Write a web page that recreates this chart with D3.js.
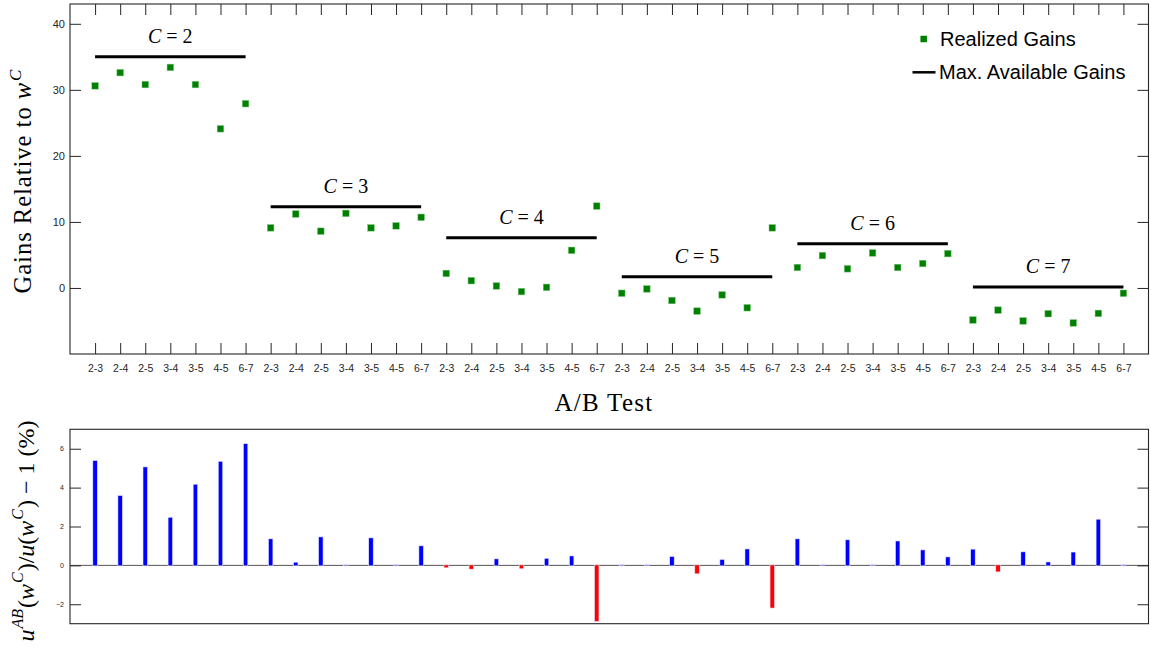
<!DOCTYPE html>
<html>
<head>
<meta charset="utf-8">
<script src="https://cdn.jsdelivr.net/npm/d3@7"></script>
<style>
  html, body { margin: 0; padding: 0; background: #fff; }
  svg { display: block; }
</style>
</head>
<body>
<svg id="chart" width="1151" height="658"></svg>
<script>
// ---------------- DATA ----------------
const tests = ["2-3", "2-4", "2-5", "3-4", "3-5", "4-5", "6-7"];
const groupC = [2, 3, 4, 5, 6, 7];
const maxGains = [35.0, 12.3, 7.6, 1.7, 6.7, 0.15];
const realizedC2 = [30.6, 32.6, 30.8, 33.4, 30.8, 24.1, 27.9];
const realizedC3 = [9.1, 11.2, 8.6, 11.3, 9.1, 9.4, 10.7];
const realizedC4 = [2.2, 1.1, 0.3, -0.55, 0.1, 5.7, 12.4];
const realizedC5 = [-0.8, -0.15, -1.9, -3.5, -1.05, -3.0, 9.1];
const realizedC6 = [3.1, 4.9, 2.9, 5.3, 3.1, 3.7, 5.2];
const realizedC7 = [-4.85, -3.35, -5.0, -3.9, -5.3, -3.85, -0.8];
const utilityChange = [
  5.37, 3.57, 5.04, 2.45, 4.15, 5.33, 6.24,
  1.34, 0.14, 1.44, 0.0, 1.39, 0.0, 0.98,
  -0.1, -0.17, 0.31, -0.15, 0.34, 0.46, -2.86,
  0.0, 0.0, 0.43, -0.41, 0.28, 0.82, -2.17,
  1.34, 0.0, 1.29, 0.0, 1.23, 0.77, 0.41,
  0.81, -0.31, 0.67, 0.15, 0.66, 2.35, 0.0
];
const topYTicks = [0, 10, 20, 30, 40];
const bottomYTicks = [-2, 0, 2, 4, 6];
const legendLabels = ["Realized Gains", "Max. Available Gains"];
// --------------------------------------

const realizedAll = [realizedC2, realizedC3, realizedC4, realizedC5, realizedC6, realizedC7];
const nT = tests.length;
const points = [];
realizedAll.forEach((arr, g) => arr.forEach((v, t) => points.push({ idx: g * nT + t + 1, g, t, v })));

const svg = d3.select("#chart");
const axisColor = "#262626";
const sansFont = "'Liberation Sans', Arial, Helvetica, sans-serif";
const serifFont = "'Liberation Serif', 'Times New Roman', serif";

const L = 70, R = 1148.5;
const x = d3.scaleLinear().domain([0, groupC.length * nT + 1]).range([L, R]);

// ---------- TOP PLOT ----------
const T1 = 4, B1 = 354;
const y1 = d3.scaleLinear().domain([-10, 43]).range([B1, T1]);
const topG = svg.append("g");

const idxAll = d3.range(1, groupC.length * nT + 1);
const tickLen = 11;

// Bottom axis with inward ticks and labels
const xAxisB = d3.axisBottom(x).tickValues(idxAll).tickSize(0).tickPadding(0)
  .tickFormat(d => tests[(d - 1) % nT]);
const gxb = topG.append("g").attr("transform", `translate(0,${B1})`).call(xAxisB);
gxb.select(".domain").remove();
gxb.selectAll("text").attr("y", 17.5).attr("dy", 0)
  .style("font-family", sansFont).style("font-size", "10.5px").attr("fill", axisColor);
gxb.selectAll(".tick").append("line").attr("y1", 0).attr("y2", -tickLen)
  .attr("stroke", axisColor).attr("stroke-width", 1);

// Top axis inward ticks
const xAxisT = d3.axisTop(x).tickValues(idxAll).tickSize(-tickLen).tickFormat("");
const gxt = topG.append("g").attr("transform", `translate(0,${T1})`).call(xAxisT);
gxt.select(".domain").remove();
gxt.selectAll("line").attr("stroke", axisColor);

// Left axis
const yAxisL = d3.axisLeft(y1).tickValues(topYTicks).tickSize(-tickLen).tickPadding(5);
const gyl = topG.append("g").attr("transform", `translate(${L},0)`).call(yAxisL);
gyl.select(".domain").remove();
gyl.selectAll("line").attr("stroke", axisColor);
gyl.selectAll("text").style("font-family", sansFont).style("font-size", "11px").attr("fill", axisColor);

// Right axis
const yAxisR = d3.axisRight(y1).tickValues(topYTicks).tickSize(-tickLen).tickFormat("");
const gyr = topG.append("g").attr("transform", `translate(${R},0)`).call(yAxisR);
gyr.select(".domain").remove();
gyr.selectAll("line").attr("stroke", axisColor);

// frame
topG.append("rect").attr("x", L).attr("y", T1).attr("width", R - L).attr("height", B1 - T1)
  .attr("fill", "none").attr("stroke", axisColor).attr("stroke-width", 1.1);

// max lines
topG.selectAll(".maxline").data(groupC).join("line")
  .attr("x1", (c, g) => x(g * nT + 1)).attr("x2", (c, g) => x(g * nT + nT))
  .attr("y1", (c, g) => y1(maxGains[g])).attr("y2", (c, g) => y1(maxGains[g]))
  .attr("stroke", "#000").attr("stroke-width", 3);

// group labels
const glab = topG.selectAll(".glab").data(groupC).join("text")
  .attr("x", (c, g) => x(g * nT + (nT + 1) / 2))
  .attr("y", (c, g) => y1(maxGains[g]) - 14)
  .attr("text-anchor", "middle")
  .style("font-family", serifFont).style("font-size", "20px").attr("fill", "#000");
glab.append("tspan").style("font-style", "italic").text("C");
glab.append("tspan").text(c => "\u2005=\u2005" + c);

// realized markers
const ms = 6.5;
topG.selectAll(".pt").data(points).join("rect")
  .attr("x", d => x(d.idx) - ms / 2).attr("y", d => y1(d.v) - ms / 2)
  .attr("width", ms).attr("height", ms)
  .attr("fill", "#008000").attr("stroke", "#6fbf6f").attr("stroke-width", 0.5);

// legend
const leg = topG.append("g");
leg.append("rect").attr("x", 923.7 - 3.25).attr("y", 39 - 3.25).attr("width", 6.5).attr("height", 6.5)
  .attr("fill", "#008000");
leg.append("text").attr("x", 940).attr("y", 46).text(legendLabels[0])
  .style("font-family", sansFont).style("font-size", "20px").attr("fill", "#000");
leg.append("line").attr("x1", 912.5).attr("x2", 935.5).attr("y1", 72.3).attr("y2", 72.3)
  .attr("stroke", "#000").attr("stroke-width", 2.5);
leg.append("text").attr("x", 939).attr("y", 79.3).text(legendLabels[1])
  .style("font-family", sansFont).style("font-size", "20px").attr("fill", "#000");

// axis labels
svg.append("text").attr("x", 604).attr("y", 411).attr("text-anchor", "middle")
  .style("font-family", serifFont).style("font-size", "25px").style("letter-spacing", "1.3px")
  .attr("fill", "#000").text("A/B Test");

const ylab1 = svg.append("text").attr("transform", "translate(31,181) rotate(-90)")
  .attr("text-anchor", "middle")
  .style("font-family", serifFont).style("font-size", "24.5px").style("letter-spacing", "1px")
  .attr("fill", "#000");
ylab1.append("tspan").text("Gains Relative to ");
ylab1.append("tspan").style("font-style", "italic").text("w");
ylab1.append("tspan").style("font-style", "italic").style("font-size", "17px").attr("dy", -10).attr("dx", 1).text("C");

// ---------- BOTTOM PLOT ----------
const T2 = 429.3, B2 = 623.7;
const y2 = d3.scaleLinear().domain([-3, 7]).range([B2, T2]);
const botG = svg.append("g");

// zero baseline
botG.append("line").attr("x1", L).attr("x2", R).attr("y1", y2(0)).attr("y2", y2(0))
  .attr("stroke", "#555").attr("stroke-width", 1);

const yAxisL2 = d3.axisLeft(y2).tickValues(bottomYTicks).tickSize(-tickLen).tickPadding(6);
const gyl2 = botG.append("g").attr("transform", `translate(${L},0)`).call(yAxisL2);
gyl2.select(".domain").remove();
gyl2.selectAll("line").attr("stroke", axisColor);
gyl2.selectAll("text").style("font-family", sansFont).style("font-size", "7px").attr("fill", axisColor);

const yAxisR2 = d3.axisRight(y2).tickValues(bottomYTicks).tickSize(-tickLen).tickFormat("");
const gyr2 = botG.append("g").attr("transform", `translate(${R},0)`).call(yAxisR2);
gyr2.select(".domain").remove();
gyr2.selectAll("line").attr("stroke", axisColor);

// bars
const bw = 4.5;
botG.selectAll(".bar").data(utilityChange).join("rect")
  .attr("x", (v, i) => x(i + 1) - bw / 2)
  .attr("y", v => Math.min(y2(v), y2(0)) - 0.5)
  .attr("width", bw)
  .attr("height", v => Math.abs(y2(v) - y2(0)) + 1)
  .attr("fill", v => v >= 0 ? "#0000ff" : "#ff0000")
  .attr("stroke", "#e6e6ff").attr("stroke-width", 0.6);

botG.append("rect").attr("x", L).attr("y", T2).attr("width", R - L).attr("height", B2 - T2)
  .attr("fill", "none").attr("stroke", axisColor).attr("stroke-width", 1.1);

const ylab2 = svg.append("text").attr("transform", "translate(34,531) rotate(-90)")
  .attr("text-anchor", "middle")
  .style("font-family", serifFont).style("font-size", "24px").attr("fill", "#000");
ylab2.append("tspan").style("font-style", "italic").text("u");
ylab2.append("tspan").style("font-style", "italic").style("font-size", "16px").attr("dy", -11).attr("dx", 1).text("AB");
ylab2.append("tspan").attr("dy", 11).attr("dx", 1).text("(");
ylab2.append("tspan").style("font-style", "italic").text("w");
ylab2.append("tspan").style("font-style", "italic").style("font-size", "16px").attr("dy", -11).attr("dx", 1).text("C");
ylab2.append("tspan").attr("dy", 11).attr("dx", 1).text(")/");
ylab2.append("tspan").style("font-style", "italic").text("u");
ylab2.append("tspan").text("(");
ylab2.append("tspan").style("font-style", "italic").text("w");
ylab2.append("tspan").style("font-style", "italic").style("font-size", "16px").attr("dy", -11).attr("dx", 1).text("C");
ylab2.append("tspan").attr("dy", 11).attr("dx", 1).text(")\u2005\u2212\u20051\u2005(%)");
</script>
</body>
</html>
